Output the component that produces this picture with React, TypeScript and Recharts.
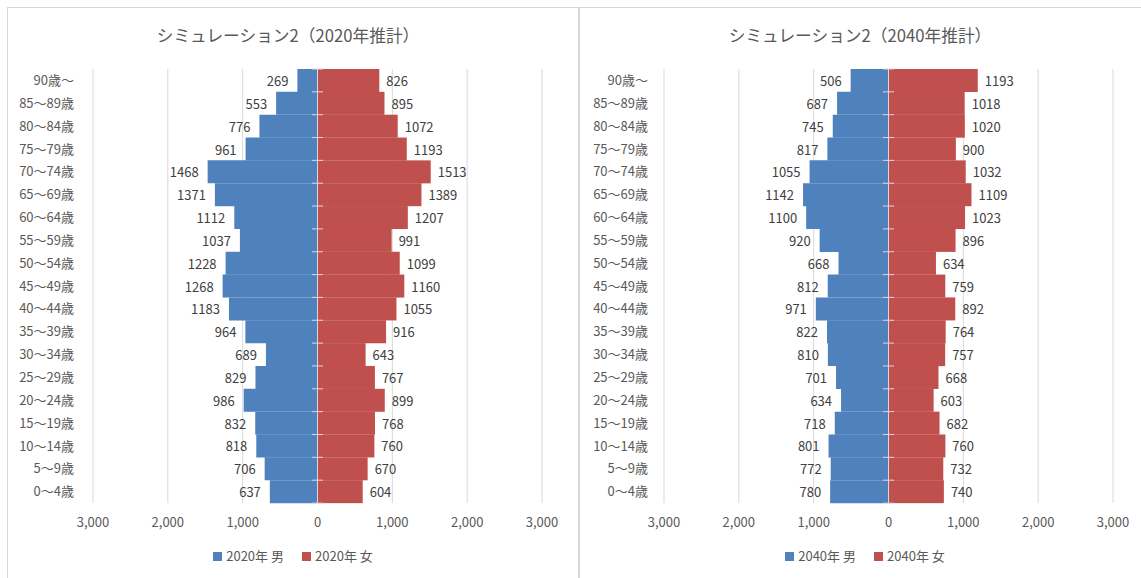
import { BarChart, Bar, XAxis, YAxis, CartesianGrid, LabelList } from "recharts";

const AGE_GROUPS = [
  "90歳～", "85～89歳", "80～84歳", "75～79歳", "70～74歳", "65～69歳", "60～64歳",
  "55～59歳", "50～54歳", "45～49歳", "40～44歳", "35～39歳", "30～34歳", "25～29歳",
  "20～24歳", "15～19歳", "10～14歳", "5～9歳", "0～4歳",
];

const MALE_2020 = [269, 553, 776, 961, 1468, 1371, 1112, 1037, 1228, 1268, 1183, 964, 689, 829, 986, 832, 818, 706, 637];
const FEMALE_2020 = [826, 895, 1072, 1193, 1513, 1389, 1207, 991, 1099, 1160, 1055, 916, 643, 767, 899, 768, 760, 670, 604];
const MALE_2040 = [506, 687, 745, 817, 1055, 1142, 1100, 920, 668, 812, 971, 822, 810, 701, 634, 718, 801, 772, 780];
const FEMALE_2040 = [1193, 1018, 1020, 900, 1032, 1109, 1023, 896, 634, 759, 892, 764, 757, 668, 603, 682, 760, 732, 740];

const X_TICKS = [-3000, -2000, -1000, 0, 1000, 2000, 3000];

const BLUE = "#4f81bd";
const RED = "#c0504d";
const GRID = "#d9d9d9";
const TEXT = "#595959";
const FONT = '"Noto Sans CJK JP", "Noto Sans", sans-serif';

const fmt = (v: number) => Math.abs(v).toLocaleString("en-US");

// female bar + the zero axis segment and its cross tick (Excel draws the
// category axis at 0 with ticks on every band boundary, over the bars)
const FemaleShape = (props: any) => {
  const { x, y, width, height, fill, index } = props;
  const last = index === AGE_GROUPS.length - 1;
  return (
    <g>
      <rect x={x} y={y} width={width} height={height} fill={fill} />
      <line x1={x} x2={x} y1={y} y2={y + height} stroke={GRID} strokeWidth={1} />
      <line x1={x - 5.5} x2={x + 5.5} y1={y} y2={y} stroke={GRID} strokeWidth={1} />
      {last && <line x1={x - 5.5} x2={x + 5.5} y1={y + height} y2={y + height} stroke={GRID} strokeWidth={1} />}
    </g>
  );
};

const makeLabel = (side: "left" | "right") => (props: any) => {
  const box = props.viewBox ?? props;
  const { x, y, width, height } = box;
  const cy = y + height / 2;
  const lo = Math.min(x, x + width);
  const hi = Math.max(x, x + width);
  return (
    <text
      x={side === "left" ? lo - 9 : hi + 7}
      y={cy}
      textAnchor={side === "left" ? "end" : "start"}
      dominantBaseline="central"
      fontSize={13}
      fill="#404040"
    >
      {Math.abs(Number(props.value))}
    </text>
  );
};

const MaleLabel = makeLabel("left");
const FemaleLabel = makeLabel("right");

function Panel({
  left,
  title,
  year,
  male,
  female,
  axisWidth,
  labelGap,
  marginRight,
}: {
  left: number;
  title: string;
  year: string;
  male: number[];
  female: number[];
  axisWidth: number;
  labelGap: number;
  marginRight: number;
}) {
  const rows = AGE_GROUPS.map((age, i) => ({ age, male: -male[i], female: female[i] }));
  return (
    <div
      style={{
        position: "absolute",
        left,
        top: 7,
        width: 570,
        height: 600,
        borderTop: `1px solid ${GRID}`,
        borderLeft: `1px solid ${GRID}`,
        borderRight: left < 100 ? `1px solid ${GRID}` : "none",
      }}
    >
      <div
        style={{
          position: "absolute",
          left: -5,
          top: 17,
          width: 570,
          textAlign: "center",
          fontSize: 16.7,
          lineHeight: "20px",
          color: TEXT,
        }}
      >
        {title}
      </div>
      <BarChart
        width={570}
        height={530}
        data={rows}
        layout="vertical"
        stackOffset="sign"
        barCategoryGap={0}
        margin={{ top: 61, right: marginRight, bottom: 5, left: 0 }}
      >
        <CartesianGrid horizontal={false} stroke={GRID} />
        <XAxis
          type="number"
          domain={[-3000, 3000]}
          ticks={X_TICKS}
          tickFormatter={fmt}
          axisLine={false}
          tickLine={false}
          tickSize={0}
          tickMargin={15}
          height={30}
          tick={{ fontSize: 13, fill: TEXT }}
        />
        <YAxis
          type="category"
          dataKey="age"
          width={axisWidth}
          axisLine={false}
          tickLine={false}
          tickSize={0}
          tickMargin={labelGap}
          interval={0}
          tick={{ fontSize: 13, fill: TEXT }}
        />
        <Bar dataKey="male" stackId="p" fill={BLUE} isAnimationActive={false}>
          <LabelList dataKey="male" content={MaleLabel} />
        </Bar>
        <Bar dataKey="female" stackId="p" fill={RED} shape={FemaleShape} isAnimationActive={false}>
          <LabelList dataKey="female" content={FemaleLabel} />
        </Bar>
      </BarChart>
      <div
        style={{
          position: "absolute",
          left: 0,
          top: 540,
          width: 570,
          display: "flex",
          justifyContent: "center",
          alignItems: "center",
          fontSize: 13,
          lineHeight: "16px",
          color: TEXT,
        }}
      >
        <span style={{ display: "inline-block", width: 9, height: 9, background: BLUE, marginRight: 4 }} />
        <span>{year}年 男</span>
        <span style={{ display: "inline-block", width: 9, height: 9, background: RED, marginLeft: 18, marginRight: 4 }} />
        <span>{year}年 女</span>
      </div>
    </div>
  );
}

export default function App() {
  return (
    <div
      style={{
        position: "absolute",
        left: 0,
        top: 0,
        width: 1141,
        height: 578,
        overflow: "hidden",
        background: "#fff",
        fontFamily: FONT,
      }}
    >
      <Panel
        left={7}
        title="シミュレーション2（2020年推計）"
        year="2020"
        male={MALE_2020}
        female={FEMALE_2020}
        axisWidth={85}
        labelGap={19}
        marginRight={36}
      />
      <Panel
        left={579}
        title="シミュレーション2（2040年推計）"
        year="2040"
        male={MALE_2040}
        female={FEMALE_2040}
        axisWidth={84}
        labelGap={16}
        marginRight={37}
      />
    </div>
  );
}
